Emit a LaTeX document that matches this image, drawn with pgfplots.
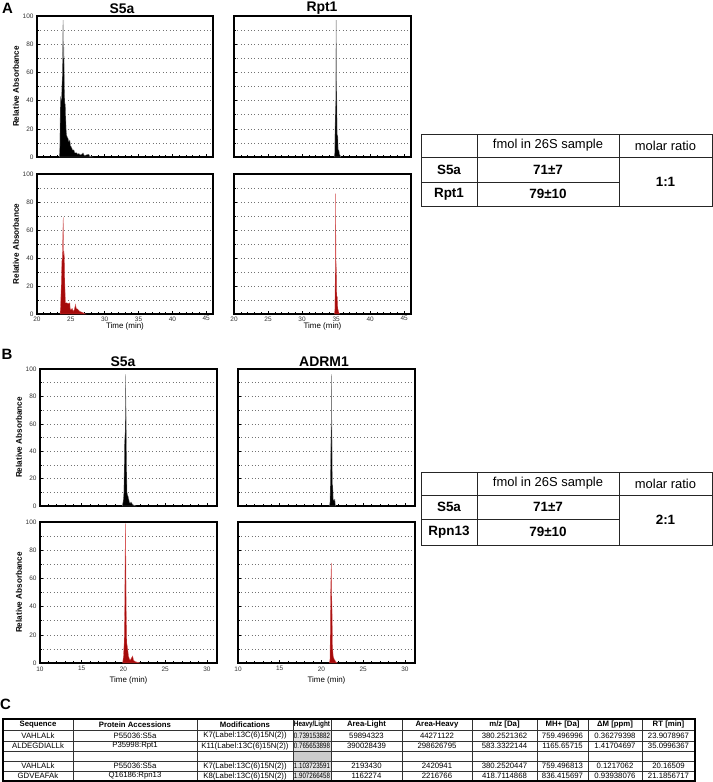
\documentclass[border=0pt]{standalone}
\usepackage{pgfplots}
\pgfplotsset{compat=1.18}
\usepackage{fontspec}
\setmainfont{Liberation Sans}
\usepackage{graphicx}
\definecolor{dred}{RGB}{165,10,10}
\definecolor{ered}{RGB}{215,90,90}
\newsavebox\cbox
\newcommand\fitw[2]{\sbox\cbox{#2}\ifdim\wd\cbox>#1bp\relax\resizebox{#1bp}{\height}{\usebox\cbox}\else\usebox\cbox\fi}
\pgfplotsset{
 chrom/.style={scale only axis, width=176bp, height=141bp, ymin=0, ymax=100,
  axis line style={line width=1.1pt},
  ytick={0,20,...,100}, minor ytick={10,30,...,90},
  ymajorgrids, yminorgrids,
  major grid style={dash pattern=on 0.8bp off 2.6bp, black!55, line width=0.5pt},
  minor grid style={dash pattern=on 0.8bp off 2.6bp, black!55, line width=0.5pt},
  tick pos=left, tick align=inside,
  major tick length=3bp, minor tick length=2bp,
  every tick/.style={black, line width=0.6pt},
  tick label style={font=\fontsize{6.5}{7}\selectfont, text=black!80},
  /pgf/number format/assume math mode=true,
  ylabel style={font=\bfseries\fontsize{8.2}{9}\selectfont},
  ylabel shift=-3bp,
  xlabel style={font=\fontsize{8}{9}\selectfont, at={(axis description cs:0.5,0)}, anchor=north},
  clip=true,
 },
 chromA/.style={chrom, xmin=20, xmax=46, xtick={20,25,...,45}, minor x tick num=4, xticklabel style={yshift=1bp}},
 chromB/.style={chrom, xmin=10, xmax=31.2, xtick={10,15,...,30}, minor x tick num=4},
 blackpk/.style={fill=black, draw=black!50, line width=0.3pt},
 redpk/.style={fill=dred, draw=ered, line width=0.3pt},
}
\begin{document}
\begin{tikzpicture}
\useasboundingbox (0,0) rectangle (713bp,-782bp);
% ---------- Panel A ----------
\begin{axis}[chromA, at={(37bp,-16bp)}, anchor=north west, width=176bp, height=141bp, xticklabels={}, ylabel={Relative Absorbance}]
\addplot[blackpk] coordinates {(23.3,0)(23.38,8)(23.45,43)(23.55,40)(23.63,42)(23.75,60)(23.85,97)(23.9,70)(23.97,78)(24.05,50)(24.12,38)(24.2,37)(24.3,20)(24.4,15)(24.5,14)(24.6,13)(24.7,11)(24.85,12)(24.95,8)(25.1,7)(25.25,5)(25.45,5)(25.6,3)(25.85,3)(26.0,2)(26.2,2.5)(26.4,1.5)(26.6,2)(26.8,3)(27.0,1)(27.3,1.5)(27.65,2)(27.8,0.5)(28.2,0)} \closedcycle;
\end{axis}
\begin{axis}[chromA, at={(234bp,-16bp)}, anchor=north west, width=177bp, height=141bp, xticklabels={}, yticklabels={}]
\addplot[blackpk] coordinates {(34.7,0)(34.8,3)(34.88,33)(34.95,40)(35.0,97)(35.05,55)(35.1,45)(35.15,16)(35.25,15)(35.3,5)(35.4,5)(35.5,2)(35.6,1)(35.7,0)} \closedcycle;
\end{axis}
\begin{axis}[chromA, at={(37bp,-174bp)}, anchor=north west, width=176bp, height=140bp, ylabel={Relative Absorbance}, xlabel={Time (min)}, xlabel style={yshift=-5bp}]
\addplot[redpk] coordinates {(23.4,0)(23.48,5)(23.55,15)(23.68,38)(23.75,40)(23.87,69)(23.92,42)(23.97,45)(24.05,40)(24.12,20)(24.2,8)(24.4,8)(24.6,7.5)(24.85,8)(24.9,4)(25.0,3)(25.2,4)(25.35,2)(25.5,3)(25.7,7)(25.8,4)(26.0,3.5)(26.1,3)(26.3,2)(26.5,1.5)(26.8,1)(27.0,0.3)(27.2,0)} \closedcycle;
\end{axis}
\begin{axis}[chromA, at={(234bp,-174bp)}, anchor=north west, width=177bp, height=140bp, yticklabels={}, xlabel={Time (min)}, xlabel style={yshift=-5bp}]
\addplot[redpk] coordinates {(34.75,0)(34.82,3)(34.88,33)(34.93,86)(34.98,38)(35.05,30)(35.1,13)(35.18,12)(35.25,4)(35.3,3)(35.4,1)(35.5,0)} \closedcycle;
\end{axis}
% ---------- Panel B ----------
\begin{axis}[chromB, at={(40bp,-369bp)}, anchor=north west, width=177bp, height=137bp, xticklabels={}, ylabel={Relative Absorbance}]
\addplot[blackpk] coordinates {(19.85,0)(19.95,3)(20.05,10)(20.12,45)(20.2,54)(20.25,96)(20.3,72)(20.35,45)(20.42,10)(20.5,8)(20.6,6)(20.7,3)(20.8,2)(20.9,3)(21.0,2)(21.1,1)(21.3,0.5)(21.5,0)} \closedcycle;
\end{axis}
\begin{axis}[chromB, at={(238bp,-369bp)}, anchor=north west, width=177bp, height=137bp, xticklabels={}, yticklabels={}]
\addplot[blackpk] coordinates {(20.95,0)(21.02,3)(21.1,35)(21.15,55)(21.2,96)(21.25,55)(21.3,16)(21.35,15)(21.4,5)(21.5,4)(21.6,5)(21.65,1)(21.75,0)} \closedcycle;
\end{axis}
\begin{axis}[chromB, at={(40bp,-522bp)}, anchor=north west, width=177bp, height=141bp, ylabel={Relative Absorbance}, xlabel={Time (min)}, xlabel style={yshift=-10bp}]
\addplot[redpk] coordinates {(19.9,0)(20.0,5)(20.08,14)(20.15,40)(20.22,99)(20.27,88)(20.32,40)(20.4,14)(20.5,10)(20.6,5)(20.7,3)(20.8,2)(20.9,3)(21.0,4)(21.1,5)(21.2,2)(21.4,1)(21.7,0.5)(22.0,0)} \closedcycle;
\end{axis}
\begin{axis}[chromB, at={(238bp,-522bp)}, anchor=north west, width=177bp, height=141bp, yticklabels={}, xlabel={Time (min)}, xlabel style={yshift=-10bp}]
\addplot[redpk] coordinates {(20.95,0)(21.02,3)(21.1,50)(21.17,71)(21.22,50)(21.27,35)(21.32,12)(21.4,5)(21.5,3)(21.6,2)(21.7,1)(21.8,0.5)(21.9,0)} \closedcycle;
\end{axis}
% ---------- titles and letters ----------
\begin{scope}[x=1bp,y=-1bp]
\node[font=\bfseries\fontsize{15}{16}\selectfont] at (7.5,8) {A};
\node[font=\bfseries\fontsize{15}{16}\selectfont] at (7,354.5) {B};
\node[font=\bfseries\fontsize{15}{16}\selectfont] at (5.5,704.5) {C};
\node[font=\bfseries\fontsize{14}{15}\selectfont] at (122,8.5) {S5a};
\node[font=\bfseries\fontsize{14}{15}\selectfont] at (322,8.5) {Rpt1};
\node[font=\bfseries\fontsize{14}{15}\selectfont] at (123,362) {S5a};
\node[font=\bfseries\fontsize{14}{15}\selectfont] at (324,362) {ADRM1};
% ---------- table A ----------
\begin{scope}[line width=1bp, black!85]
\draw (421,134) rectangle (712,206);
\draw (477,134) -- (477,206);
\draw (619,134) -- (619,206);
\draw (421,157) -- (712,157);
\draw (421,182) -- (619,182);
\end{scope}
\node[font=\fontsize{13}{14}\selectfont] at (548,145.5) {fmol in 26S sample};
\node[font=\fontsize{13}{14}\selectfont] at (665.5,145.5) {molar ratio};
\node[font=\bfseries\fontsize{13.5}{14}\selectfont] at (449,169.5) {S5a};
\node[font=\bfseries\fontsize{13.5}{14}\selectfont] at (548,169.5) {71±7};
\node[font=\bfseries\fontsize{13.5}{14}\selectfont] at (449,194) {Rpt1};
\node[font=\bfseries\fontsize{13.5}{14}\selectfont] at (548,194) {79±10};
\node[font=\bfseries\fontsize{13.5}{14}\selectfont] at (665.5,181.5) {1:1};
% ---------- table B ----------
\begin{scope}[line width=1bp, black!85]
\draw (421,472) rectangle (712,545);
\draw (477,472) -- (477,545);
\draw (619,472) -- (619,545);
\draw (421,495) -- (712,495);
\draw (421,519) -- (619,519);
\end{scope}
\node[font=\fontsize{13}{14}\selectfont] at (548,483.5) {fmol in 26S sample};
\node[font=\fontsize{13}{14}\selectfont] at (665.5,483.5) {molar ratio};
\node[font=\bfseries\fontsize{13.5}{14}\selectfont] at (449,507) {S5a};
\node[font=\bfseries\fontsize{13.5}{14}\selectfont] at (548,507) {71±7};
\node[font=\bfseries\fontsize{13.5}{14}\selectfont] at (449,532) {Rpn13};
\node[font=\bfseries\fontsize{13.5}{14}\selectfont] at (548,532) {79±10};
\node[font=\bfseries\fontsize{13.5}{14}\selectfont] at (665.5,520) {2:1};
% ---------- table C ----------
\fill[black!12] (293,730) rectangle (331,751);
\fill[black!20] (293,751) rectangle (331,761);
\fill[black!12] (293,761) rectangle (331,781);
\begin{scope}[line width=0.5bp, black!80]
\foreach \yy in {730,741,751,761,771} {\draw (3,\yy) -- (695,\yy);}
\foreach \xx in {73,197,293,331,402,472,537,588,642} {\draw (\xx,719) -- (\xx,781);}
\end{scope}
\draw[line width=1.3bp] (3,719) rectangle (695,781);
\newcommand\hc[3]{\node[inner sep=0pt] at (#1,724.5) {\fitw{#2}{\bfseries\fontsize{7.8}{8}\selectfont #3}};}
\newcommand\dc[4]{\node[inner sep=0pt] at (#1,#2) {\fitw{#3}{\fontsize{7.8}{8}\selectfont #4}};}
\hc{38}{66}{Sequence}
\hc{135}{120}{Protein Accessions}
\hc{245}{92}{Modifications}
\hc{312}{36}{Heavy/Light}
\hc{366.5}{67}{Area-Light}
\hc{437}{66}{Area-Heavy}
\hc{504.5}{61}{m/z [Da]}
\hc{562.5}{47}{MH+ [Da]}
\hc{615}{50}{ΔM [ppm]}
\hc{668.5}{49}{RT [min]}
% row 1
\dc{38}{735.5}{66}{VAHLALk}
\dc{135}{735.5}{120}{P55036:S5a}
\dc{245}{735.5}{92}{K7(Label:13C(6)15N(2))}
\dc{312}{735.5}{36}{0.739153882}
\dc{366.5}{735.5}{67}{59894323}
\dc{437}{735.5}{66}{44271122}
\dc{504.5}{735.5}{61}{380.2521362}
\dc{562.5}{735.5}{47}{759.496996}
\dc{615}{735.5}{50}{0.36279398}
\dc{668.5}{735.5}{49}{23.9078967}
% row 2
\dc{38}{746}{66}{ALDEGDIALLk}
\dc{135}{746}{120}{P35998:Rpt1}
\dc{245}{746}{92}{K11(Label:13C(6)15N(2))}
\dc{312}{746}{36}{0.765653898}
\dc{366.5}{746}{67}{390028439}
\dc{437}{746}{66}{298626795}
\dc{504.5}{746}{61}{583.3322144}
\dc{562.5}{746}{47}{1165.65715}
\dc{615}{746}{50}{1.41704697}
\dc{668.5}{746}{49}{35.0996367}
% row 4
\dc{38}{766}{66}{VAHLALk}
\dc{135}{766}{120}{P55036:S5a}
\dc{245}{766}{92}{K7(Label:13C(6)15N(2))}
\dc{312}{766}{36}{1.103723591}
\dc{366.5}{766}{67}{2193430}
\dc{437}{766}{66}{2420941}
\dc{504.5}{766}{61}{380.2520447}
\dc{562.5}{766}{47}{759.496813}
\dc{615}{766}{50}{0.1217062}
\dc{668.5}{766}{49}{20.16509}
% row 5
\dc{38}{776}{66}{GDVEAFAk}
\dc{135}{776}{120}{Q16186:Rpn13}
\dc{245}{776}{92}{K8(Label:13C(6)15N(2))}
\dc{312}{776}{36}{1.907266458}
\dc{366.5}{776}{67}{1162274}
\dc{437}{776}{66}{2216766}
\dc{504.5}{776}{61}{418.7114868}
\dc{562.5}{776}{47}{836.415697}
\dc{615}{776}{50}{0.93938076}
\dc{668.5}{776}{49}{21.1856717}
\end{scope}
\end{tikzpicture}
\end{document}
